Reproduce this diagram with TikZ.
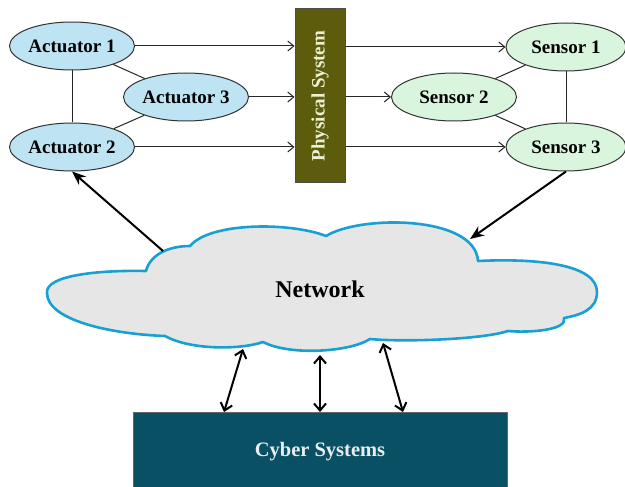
\documentclass[tikz,border=0pt]{standalone}
\usepackage{fontspec}
\setmainfont{Liberation Serif}
\usetikzlibrary{shapes.geometric,arrows.meta}
\definecolor{actfill}{RGB}{190,228,244}
\definecolor{senfill}{RGB}{218,245,222}
\definecolor{psfill}{RGB}{92,92,12}
\definecolor{pstext}{RGB}{235,240,210}
\definecolor{cyfill}{RGB}{10,80,100}
\definecolor{cytext}{RGB}{232,238,238}
\definecolor{cloudline}{RGB}{24,160,210}
\definecolor{cloudfill}{RGB}{230,230,230}
\begin{document}
\begin{tikzpicture}[x=1pt,y=-1pt,
 every node/.style={font=\fontsize{19}{21}\selectfont\bfseries},
 act/.style={ellipse,draw=black!80,line width=1pt,fill=actfill,minimum width=125pt,minimum height=48pt,inner sep=0pt},
 sen/.style={ellipse,draw=black!80,line width=1pt,fill=senfill,minimum width=120pt,minimum height=48pt,inner sep=0pt},
 link/.style={draw=black!85,line width=1pt},
 flow/.style={link,-{Straight Barb[length=6pt,width=10pt]}},
 net/.style={draw=black,line width=2pt,-{Stealth[length=14pt,width=11pt]}},
 bidir/.style={draw=black,line width=2pt,{Straight Barb[length=7pt,width=12pt]}-{Straight Barb[length=7pt,width=12pt]}}
]
\useasboundingbox (0,0) rectangle (625,487);
\clip (0,0) rectangle (625,487);

% actuators and sensors
\node[act] (a1) at (72,46) {Actuator 1};
\node[act] (a3) at (186,97) {Actuator 3};
\node[act] (a2) at (72,147) {Actuator 2};
\node[sen] (s1) at (566,47) {Sensor 1};
\node[sen,minimum width=125pt] (s2) at (454,97) {Sensor 2};
\node[sen] (s3) at (566,147) {Sensor 3};

% physical system
\node[rotate=90,draw=black!70,line width=1pt,fill=psfill,text=pstext,minimum width=174pt,minimum height=50pt,inner sep=0pt] (ps) at (320,96) {Physical System};

% links among actuators and sensors
\draw[link] (a1) -- (a2);
\draw[link] (a1) -- (a3);
\draw[link] (a3) -- (a2);
\draw[link] (s1) -- (s3);
\draw[link] (s2) -- (s1);
\draw[link] (s2) -- (s3);

% flows
\draw[flow] (a1.east) -- (a1.east -| ps.north);
\draw[flow] (a3.east) -- (a3.east -| ps.north);
\draw[flow] (a2.east) -- (a2.east -| ps.north);
\draw[flow] (ps.south |- s1.west) -- (s1.west);
\draw[flow] (ps.south |- s2.west) -- (s2.west);
\draw[flow] (ps.south |- s3.west) -- (s3.west);

% cloud
\draw[cloudline,fill=cloudfill,line width=2.6pt,line join=round]
 (47,293) .. controls (45,275) and (100,270) .. (146,271)
 .. controls (150,255) and (168,246) .. (190,246)
 .. controls (210,222) and (290,222) .. (326,236)
 .. controls (360,215) and (475,215) .. (478,261)
 .. controls (540,258) and (597,265) .. (597,292)
 .. controls (597,310) and (580,315) .. (564,318)
 .. controls (568,330) and (530,333) .. (508,331)
 .. controls (480,340) and (400,342) .. (370,339)
 .. controls (350,352) and (290,356) .. (263,342)
 .. controls (240,350) and (190,350) .. (165,336)
 .. controls (110,334) and (47,320) .. cycle;
\node (net) at (320,289) {\fontsize{24}{26}\selectfont Network};

% cyber systems
\node[draw=black!60,line width=1pt,fill=cyfill,text=cytext,minimum width=374pt,minimum height=80pt,inner sep=0pt] (cy) at (320,452) {\fontsize{20.5}{23}\selectfont\raisebox{4pt}{Cyber Systems}};

% network connectors
\coordinate (c1) at (163,251);
\coordinate (c2) at (470,239);
\draw[net] (c1) -- (a2.south);
\draw[net] (s3.south) -- (c2);

\coordinate (b1) at (243,349);
\coordinate (b2) at (320,355);
\coordinate (b3) at (383,343);
\coordinate (d1) at (224,412);
\coordinate (d2) at (320,412);
\coordinate (d3) at (403,412);
\draw[bidir] (b1) -- (d1);
\draw[bidir] (b2) -- (d2);
\draw[bidir] (b3) -- (d3);
\end{tikzpicture}
\end{document}
